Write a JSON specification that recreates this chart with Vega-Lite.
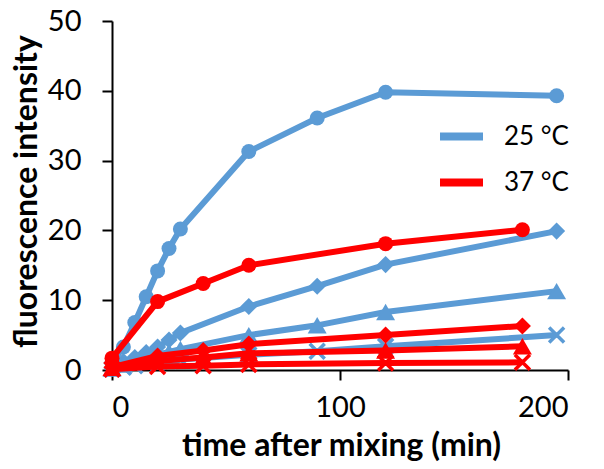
{
  "$schema": "https://vega.github.io/schema/vega-lite/v6.json",
  "width": 456,
  "height": 349,
  "autosize": {"type": "none"},
  "padding": {"left": 112, "top": 21, "right": 36, "bottom": 99},
  "background": "white",
  "config": {
    "view": {"stroke": null},
    "font": "Lato",
    "axis": {
      "grid": false,
      "domainColor": "black",
      "domainWidth": 2,
      "tickColor": "black",
      "tickWidth": 2,
      "tickSize": 10,
      "labelFont": "Lato",
      "labelFontSize": 29,
      "labelColor": "black",
      "titleFont": "Lato",
      "titleFontSize": 32,
      "titleFontWeight": "bold",
      "titleColor": "black"
    }
  },
  "data": {
    "values": [
      {"t": 0, "v": 1.0, "temp": "25 °C", "s": "circle"},
      {"t": 5, "v": 3.3, "temp": "25 °C", "s": "circle"},
      {"t": 10, "v": 6.8, "temp": "25 °C", "s": "circle"},
      {"t": 15, "v": 10.5, "temp": "25 °C", "s": "circle"},
      {"t": 20, "v": 14.2, "temp": "25 °C", "s": "circle"},
      {"t": 25, "v": 17.4, "temp": "25 °C", "s": "circle"},
      {"t": 30, "v": 20.2, "temp": "25 °C", "s": "circle"},
      {"t": 60, "v": 31.3, "temp": "25 °C", "s": "circle"},
      {"t": 90, "v": 36.1, "temp": "25 °C", "s": "circle"},
      {"t": 120, "v": 39.8, "temp": "25 °C", "s": "circle"},
      {"t": 195, "v": 39.3, "temp": "25 °C", "s": "circle"},
      {"t": 0, "v": 0.3, "temp": "25 °C", "s": "diamond"},
      {"t": 5, "v": 1.2, "temp": "25 °C", "s": "diamond"},
      {"t": 10, "v": 1.8, "temp": "25 °C", "s": "diamond"},
      {"t": 15, "v": 2.5, "temp": "25 °C", "s": "diamond"},
      {"t": 20, "v": 3.3, "temp": "25 °C", "s": "diamond"},
      {"t": 25, "v": 4.3, "temp": "25 °C", "s": "diamond"},
      {"t": 30, "v": 5.3, "temp": "25 °C", "s": "diamond"},
      {"t": 60, "v": 9.1, "temp": "25 °C", "s": "diamond"},
      {"t": 90, "v": 12.0, "temp": "25 °C", "s": "diamond"},
      {"t": 120, "v": 15.1, "temp": "25 °C", "s": "diamond"},
      {"t": 195, "v": 19.9, "temp": "25 °C", "s": "diamond"},
      {"t": 0, "v": 0.2, "temp": "25 °C", "s": "triangle"},
      {"t": 5, "v": 0.8, "temp": "25 °C", "s": "triangle"},
      {"t": 10, "v": 1.2, "temp": "25 °C", "s": "triangle"},
      {"t": 15, "v": 1.6, "temp": "25 °C", "s": "triangle"},
      {"t": 20, "v": 2.2, "temp": "25 °C", "s": "triangle"},
      {"t": 25, "v": 2.6, "temp": "25 °C", "s": "triangle"},
      {"t": 30, "v": 3.0, "temp": "25 °C", "s": "triangle"},
      {"t": 60, "v": 5.0, "temp": "25 °C", "s": "triangle"},
      {"t": 90, "v": 6.4, "temp": "25 °C", "s": "triangle"},
      {"t": 120, "v": 8.3, "temp": "25 °C", "s": "triangle"},
      {"t": 195, "v": 11.3, "temp": "25 °C", "s": "triangle"},
      {"t": 0, "v": 0.1, "temp": "25 °C", "s": "cross"},
      {"t": 5, "v": 0.4, "temp": "25 °C", "s": "cross"},
      {"t": 10, "v": 0.6, "temp": "25 °C", "s": "cross"},
      {"t": 15, "v": 0.9, "temp": "25 °C", "s": "cross"},
      {"t": 20, "v": 1.1, "temp": "25 °C", "s": "cross"},
      {"t": 25, "v": 1.3, "temp": "25 °C", "s": "cross"},
      {"t": 30, "v": 1.5, "temp": "25 °C", "s": "cross"},
      {"t": 60, "v": 2.2, "temp": "25 °C", "s": "cross"},
      {"t": 90, "v": 2.7, "temp": "25 °C", "s": "cross"},
      {"t": 120, "v": 3.4, "temp": "25 °C", "s": "cross"},
      {"t": 195, "v": 5.0, "temp": "25 °C", "s": "cross"},
      {"t": 0, "v": 1.7, "temp": "37 °C", "s": "circle"},
      {"t": 20, "v": 9.8, "temp": "37 °C", "s": "circle"},
      {"t": 40, "v": 12.4, "temp": "37 °C", "s": "circle"},
      {"t": 60, "v": 15.0, "temp": "37 °C", "s": "circle"},
      {"t": 120, "v": 18.1, "temp": "37 °C", "s": "circle"},
      {"t": 180, "v": 20.1, "temp": "37 °C", "s": "circle"},
      {"t": 0, "v": 0.4, "temp": "37 °C", "s": "diamond"},
      {"t": 20, "v": 2.0, "temp": "37 °C", "s": "diamond"},
      {"t": 40, "v": 2.8, "temp": "37 °C", "s": "diamond"},
      {"t": 60, "v": 3.7, "temp": "37 °C", "s": "diamond"},
      {"t": 120, "v": 5.0, "temp": "37 °C", "s": "diamond"},
      {"t": 180, "v": 6.3, "temp": "37 °C", "s": "diamond"},
      {"t": 0, "v": 0.3, "temp": "37 °C", "s": "triangle"},
      {"t": 20, "v": 1.3, "temp": "37 °C", "s": "triangle"},
      {"t": 40, "v": 1.8, "temp": "37 °C", "s": "triangle"},
      {"t": 60, "v": 2.4, "temp": "37 °C", "s": "triangle"},
      {"t": 120, "v": 2.8, "temp": "37 °C", "s": "triangle"},
      {"t": 180, "v": 3.4, "temp": "37 °C", "s": "triangle"},
      {"t": 0, "v": 0.1, "temp": "37 °C", "s": "cross"},
      {"t": 20, "v": 0.5, "temp": "37 °C", "s": "cross"},
      {"t": 40, "v": 0.6, "temp": "37 °C", "s": "cross"},
      {"t": 60, "v": 0.8, "temp": "37 °C", "s": "cross"},
      {"t": 120, "v": 1.0, "temp": "37 °C", "s": "cross"},
      {"t": 180, "v": 1.1, "temp": "37 °C", "s": "cross"}
    ]
  },
  "encoding": {
    "x": {
      "field": "t", "type": "quantitative",
      "scale": {"domain": [0, 200], "nice": false},
      "axis": {"values": [0, 100, 200], "title": "time after mixing (min)", "labelPadding": 13, "titleX": 229, "titleY": 85, "titleBaseline": "alphabetic", "titleAlign": "center"}
    },
    "y": {
      "field": "v", "type": "quantitative",
      "scale": {"domain": [0, 50], "nice": false},
      "axis": {"values": [0, 10, 20, 30, 40, 50], "title": "fluorescence intensity", "labelPadding": 21, "titleX": -86, "titleY": 170, "titleAngle": -90, "titleBaseline": "middle", "titleAlign": "center"}
    }
  },
  "layer": [
    {
      "transform": [{"filter": "datum.temp === '25 °C'"}],
      "mark": {"type": "line", "strokeWidth": 6},
      "encoding": {
        "color": {
          "field": "temp", "type": "nominal",
          "scale": {"domain": ["25 °C", "37 °C"], "range": ["#5B9BD5", "#FF0000"]},
          "legend": {
            "title": null, "orient": "none", "legendX": 324, "legendY": 90,
            "symbolType": "stroke", "symbolSize": 1849, "symbolStrokeWidth": 8,
            "labelFont": "Lato", "labelFontSize": 26, "labelColor": "black", "labelOffset": 17,
            "rowPadding": 4
          }
        },
        "detail": {"field": "s"}
      }
    },
    {
      "transform": [{"filter": "datum.temp === '25 °C' && datum.s !== 'cross'"}],
      "mark": {"type": "point", "filled": true, "opacity": 1, "color": "#5B9BD5"},
      "encoding": {
        "shape": {"field": "s", "type": "nominal", "legend": null,
          "scale": {"domain": ["circle", "diamond", "triangle"], "range": ["circle", "diamond", "triangle-up"]}},
        "size": {"field": "s", "type": "nominal", "legend": null,
          "scale": {"domain": ["circle", "diamond", "triangle"], "range": [225, 360, 270]}}
      }
    },
    {
      "transform": [{"filter": "datum.temp === '25 °C' && datum.s === 'cross'"}],
      "mark": {"type": "point", "filled": false, "opacity": 1, "color": "#5B9BD5", "strokeWidth": 3.5, "shape": "M-1,-1L1,1M-1,1L1,-1", "size": 225},
      "encoding": {}
    },
    {
      "transform": [{"filter": "datum.temp === '37 °C'"}],
      "mark": {"type": "line", "strokeWidth": 6},
      "encoding": {
        "color": {"field": "temp", "type": "nominal"},
        "detail": {"field": "s"}
      }
    },
    {
      "transform": [{"filter": "datum.temp === '37 °C' && datum.s !== 'cross'"}],
      "mark": {"type": "point", "filled": true, "opacity": 1, "color": "#FF0000"},
      "encoding": {
        "shape": {"field": "s", "type": "nominal", "legend": null},
        "size": {"field": "s", "type": "nominal", "legend": null}
      }
    },
    {
      "transform": [{"filter": "datum.temp === '37 °C' && datum.s === 'cross'"}],
      "mark": {"type": "point", "filled": false, "opacity": 1, "color": "#FF0000", "strokeWidth": 3.5, "shape": "M-1,-1L1,1M-1,1L1,-1", "size": 225},
      "encoding": {}
    }
  ]
}
